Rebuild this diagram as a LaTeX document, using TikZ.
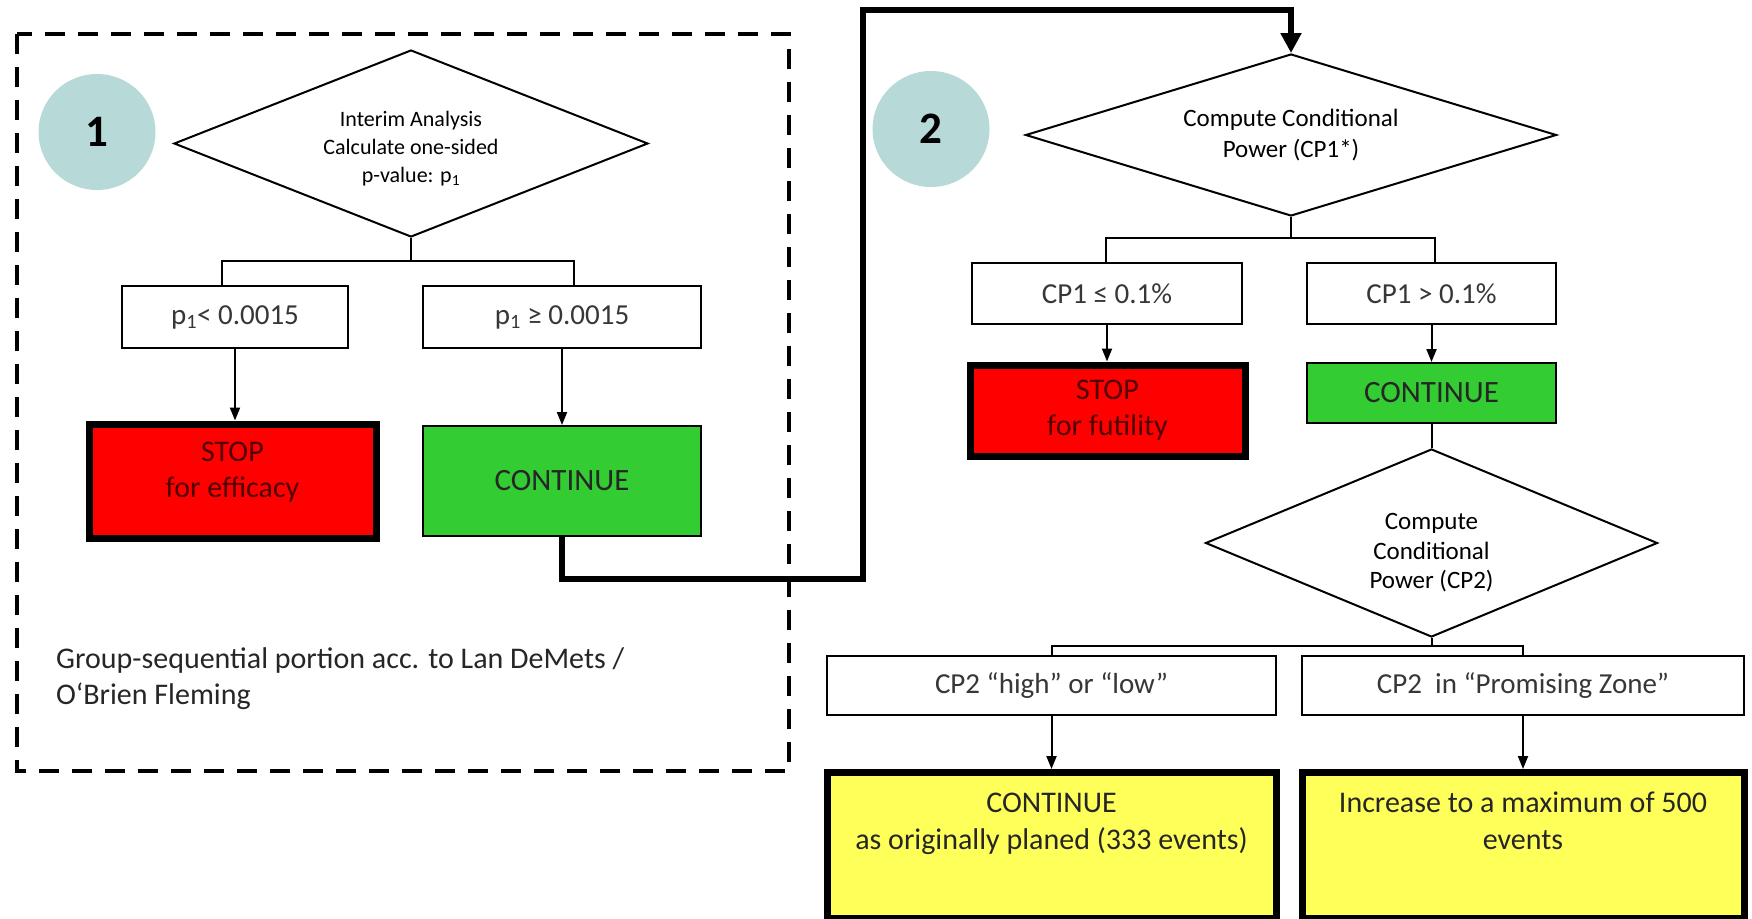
\documentclass[tikz,border=0pt]{standalone}
\usepackage{fontspec}
\setmainfont{Carlito}
\usetikzlibrary{shapes.geometric,arrows.meta}
\definecolor{cred}{RGB}{255,0,0}
\definecolor{cgreen}{RGB}{51,204,51}
\definecolor{cyellow}{RGB}{255,255,90}
\definecolor{cteal}{RGB}{183,217,215}
\definecolor{dred}{RGB}{80,0,0}
\definecolor{tgray}{RGB}{55,55,55}
\begin{document}
\begin{tikzpicture}[x=1pt,y=-1pt,
  every node/.style={inner sep=0pt},
  box/.style={draw=black,line width=2pt,fill=white,rectangle,align=center,text=tgray,font=\fontsize{29}{35}\selectfont},
  redbox/.style={draw=black,line width=7pt,fill=cred,rectangle,align=center,text=dred,font=\fontsize{30}{36}\selectfont},
  greenbox/.style={draw=black,line width=2pt,fill=cgreen,rectangle,align=center,text=black!85,font=\fontsize{31}{37}\selectfont},
  yellowbox/.style={draw=black,line width=7pt,fill=cyellow,rectangle,align=center,text=black!85,font=\fontsize{30}{37}\selectfont,inner xsep=5pt,inner ysep=10pt,text height=67pt,text depth=59pt},
  dia/.style={draw=black,line width=2pt,fill=white,diamond,align=center,text=black,inner sep=0pt},
  circ/.style={ellipse,fill=cteal,minimum width=117pt,minimum height=116pt,font=\fontsize{45}{50}\selectfont\bfseries,text=black},
  note/.style={align=left,text=black!85,font=\fontsize{30}{36}\selectfont},
  conn/.style={draw=black,line width=2pt},
  arr/.style={draw=black,line width=2pt,-{Triangle[length=13pt,width=10pt]}},
  thickarr/.style={draw=black,line width=6.5pt,-{Triangle[length=20pt,width=20pt]}},
  dashframe/.style={draw=black,line width=4pt,dash pattern=on 20pt off 13pt}
]
\useasboundingbox (0,0) rectangle (1752,918);

% ---------- part 1 ----------
\draw[dashframe] (17,34) rectangle (789,771);
\node[circ] (c1) at (97,132) {1};
\node[dia,shape aspect=2.53,minimum width=474pt,minimum height=187pt,font=\fontsize{22}{28}\selectfont,text height=83pt,text depth=5pt] (d1) at (411,143.5)
  {Interim Analysis\\Calculate one-sided\\p-value: p\textsubscript{1}};
\node[box,minimum width=226pt,minimum height=62pt] (b1) at (235,317) {p\textsubscript{1}< 0.0015};
\node[box,minimum width=278pt,minimum height=62pt] (b2) at (562,317) {p\textsubscript{1} ≥ 0.0015};
\node[redbox,minimum width=287pt,minimum height=114pt,text depth=23pt] (r1) at (232.5,481) {STOP\\for efficacy};
\node[greenbox,minimum width=278pt,minimum height=110pt] (g1) at (562,481) {CONTINUE};
\node[note,anchor=west] (n1) at (56,679) {Group-sequential portion acc. to Lan DeMets /\\O‘Brien Fleming};

\coordinate (j1) at (411,261);
\draw[conn] (d1.south) -- (j1);
\draw[conn] (j1) -| ([xshift=-13pt]b1.north);
\draw[conn] (j1) -| ([xshift=11.5pt]b2.north);
\draw[arr] (b1.south) -- (b1.south |- r1.north);
\draw[arr] (b2.south) -- (b2.south |- g1.north);

% ---------- part 2 ----------
\node[circ] (c2) at (931,129) {2};
\node[dia,shape aspect=3.3,minimum width=531pt,minimum height=162pt,font=\fontsize{25}{30.5}\selectfont] (d2) at (1291,135)
  {Compute Conditional\\Power (CP1*)};
\node[box,minimum width=270pt,minimum height=61pt] (b3) at (1107,293.5) {CP1 ≤ 0.1\%};
\node[box,minimum width=249pt,minimum height=61pt] (b4) at (1431.5,293.5) {CP1 > 0.1\%};
\node[redbox,minimum width=275pt,minimum height=91pt] (r2) at (1107.5,410.5) {STOP\\for futility};
\node[greenbox,minimum width=249pt,minimum height=60pt] (g2) at (1431.5,393) {CONTINUE};
\node[dia,shape aspect=2.4,minimum width=452pt,minimum height=188pt,font=\fontsize{25}{29.5}\selectfont,text height=97pt,text depth=6pt] (d3) at (1431.5,543)
  {Compute\\Conditional\\Power (CP2)};
\node[box,minimum width=449pt,minimum height=59pt] (b5) at (1051.5,685.5) {CP2 “high” or “low”};
\node[box,minimum width=442pt,minimum height=59pt] (b6) at (1523,685.5) {CP2\ \ in “Promising Zone”};
\node[yellowbox,minimum width=449pt,anchor=north] (y1) at (1051.5,769) {CONTINUE\\as originally planed (333 events)};
\node[yellowbox,minimum width=442pt,anchor=north] (y2) at (1523,769) {Increase to a maximum of 500\\events};

\coordinate (t1) at (863,579);
\coordinate (t2) at (863,10);
\draw[thickarr] (g1.south) |- (t1) -- (t2) -| (d2.north);

\coordinate (j2) at (1291,238);
\draw[conn] (d2.south) -- (j2);
\draw[conn] (j2) -| ([xshift=-1pt]b3.north);
\draw[conn] (j2) -| ([xshift=3.5pt]b4.north);
\draw[arr] (b3.south) -- (b3.south |- r2.north);
\draw[arr] (b4.south) -- (b4.south |- g2.north);
\draw[conn] (g2.south) -- (d3.north);

\coordinate (j3) at (1431.5,646);
\draw[conn] (d3.south) -- (j3);
\draw[conn] (j3) -| (b5.north);
\draw[conn] (j3) -| (b6.north);
\draw[arr] (b5.south) -- (b5.south |- y1.north);
\draw[arr] (b6.south) -- (b6.south |- y2.north);
\end{tikzpicture}
\end{document}
